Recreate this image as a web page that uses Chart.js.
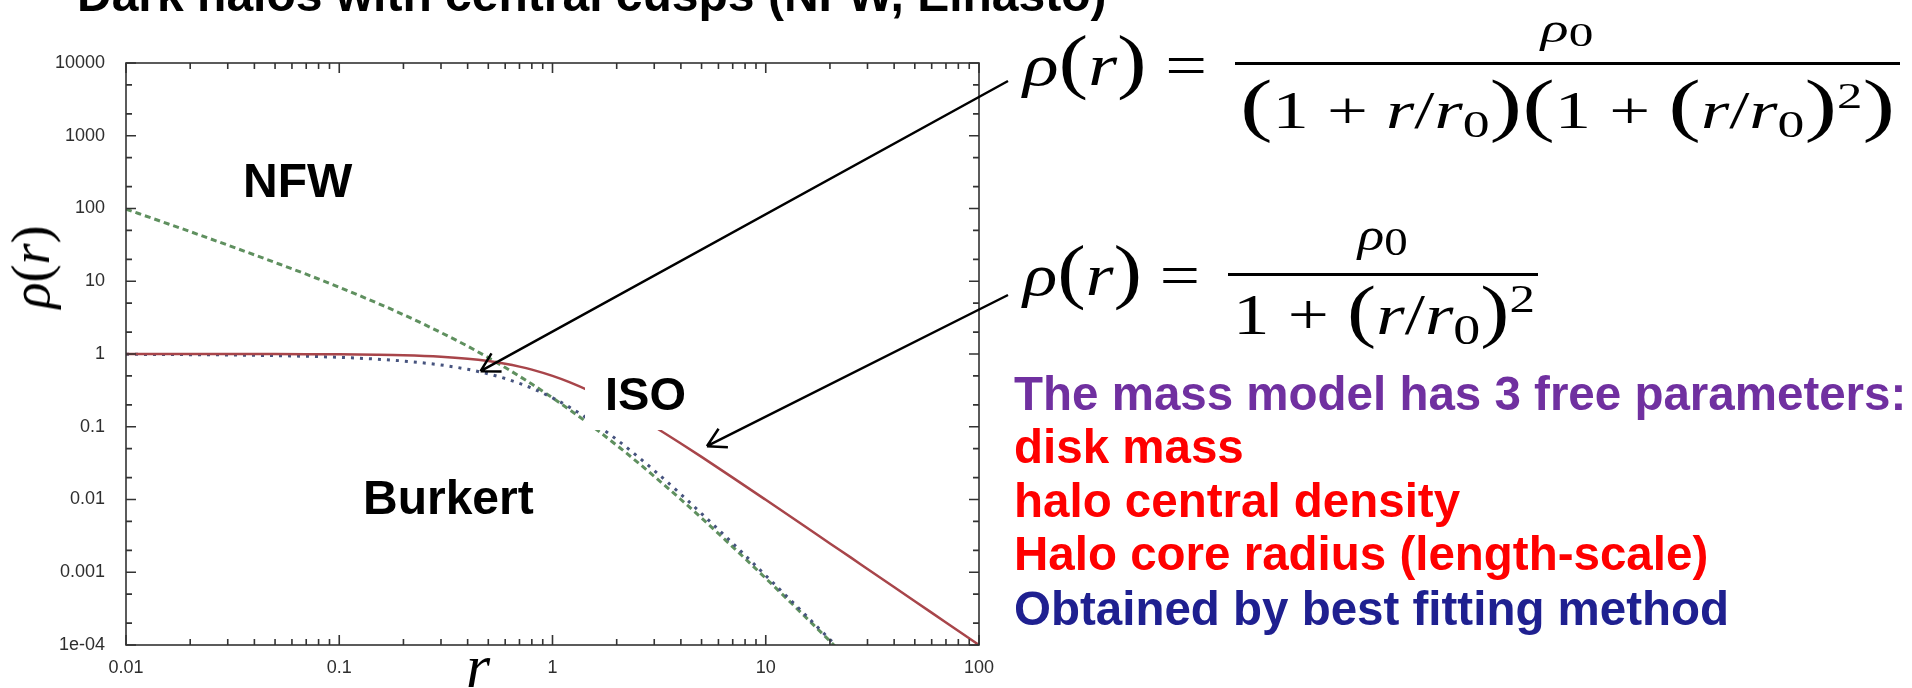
<!DOCTYPE html>
<html>
<head>
<meta charset="utf-8">
<script src="https://cdn.jsdelivr.net/npm/chart.js@4.4.1/dist/chart.umd.min.js"></script>
<style>
  html, body { margin: 0; padding: 0; background: #fff; }
  #page { position: relative; width: 1912px; height: 688px; overflow: hidden; }
  #page canvas { position: absolute; left: 0; top: 0; }
  .txt { position: absolute; white-space: nowrap; line-height: 1; }
  .sans { font-family: 'Liberation Sans', Arial, sans-serif; font-weight: bold; }
  .math { font-family: 'Liberation Serif', 'Times New Roman', serif; color: #000; }
  .math i { font-style: italic; }
  .sub { font-size: 0.74em; position: relative; top: 0.24em; }
  .sub0 { font-size: 0.85em; position: relative; top: 0.13em; }
  .sup { font-size: 0.7em; position: relative; top: -0.55em; }
  .big { font-size: 1.35em; line-height: 0; }
  .mid { font-size: 1.2em; line-height: 0; }
  .num { position: absolute; text-align: center; line-height: 1; }
  .num span.sq { display: inline-block; }
  .bar { position: absolute; background: #000; }
</style>
</head>
<body>
<div id="page">
  <canvas id="chart-density" width="1912" height="688"></canvas>

  <div class="txt sans" style="left:77px; top:-29px; font-size:48px;">Dark halos with central cusps (NFW, Einasto)</div>

  <div class="txt sans" style="left:243px; top:157px; font-size:48px;">NFW</div>
  <div style="position:absolute; left:585px; top:373px; width:115px; height:57px; background:#fff;"></div>
  <div class="txt sans" style="left:605px; top:370px; font-size:47px;">ISO</div>
  <div class="txt sans" style="left:363px; top:474px; font-size:48px;">Burkert</div>

  <div class="txt math" style="left:31px; top:267px; font-size:54px; transform:translate(-50%,-50%) rotate(-90deg);"><i>ρ</i>(<i>r</i>)</div>
  <div class="txt math" style="left:466px; top:635px; font-size:62px;"><i>r</i></div>

  <!-- Burkert profile -->
  <div class="txt math" data-w="184" style="left:1023px; top:35px; font-size:60px;"><i>ρ</i><span class="mid">(</span><i>r</i><span class="mid">)</span> =</div>
  <div class="num math" style="left:1235px; width:665px; top:9px; font-size:40px;"><span class="sq" style="transform:scaleX(1.45);"><i>ρ</i><span class="sub0">0</span></span></div>
  <div class="bar" style="left:1235px; top:62px; width:665px; height:3px;"></div>
  <div class="txt math" data-w="655" style="left:1240px; top:85px; font-size:52px;"><span class="big">(</span>1 + <i>r</i>/<i>r</i><span class="sub">0</span><span class="big">)(</span>1 + <span class="big">(</span><i>r</i>/<i>r</i><span class="sub">0</span><span class="big">)</span><span class="sup">2</span><span class="big">)</span></div>

  <!-- ISO profile -->
  <div class="txt math" data-w="177" style="left:1023px; top:245px; font-size:60px;"><i>ρ</i><span class="mid">(</span><i>r</i><span class="mid">)</span> =</div>
  <div class="num math" style="left:1228px; width:310px; top:212px; font-size:46px;"><span class="sq" style="transform:scaleX(1.2);"><i>ρ</i><span class="sub0">0</span></span></div>
  <div class="bar" style="left:1228px; top:273px; width:310px; height:3px;"></div>
  <div class="txt math" data-w="302" style="left:1233px; top:286px; font-size:58px;">1 + <span class="mid">(</span><i>r</i>/<i>r</i><span class="sub">0</span><span class="mid">)</span><span class="sup">2</span></div>

  <div class="txt sans" style="left:1014px; top:370px; font-size:47.5px; color:#7030a0;">The mass model has 3 free parameters:</div>
  <div class="txt sans" style="left:1014px; top:423px; font-size:47.5px; color:#ff0000;">disk mass</div>
  <div class="txt sans" style="left:1014px; top:477px; font-size:47.5px; color:#ff0000;">halo central density</div>
  <div class="txt sans" style="left:1014px; top:530px; font-size:47.5px; color:#ff0000;">Halo core radius (length-scale)</div>
  <div class="txt sans" style="left:1014px; top:585px; font-size:47.5px; color:#1f2090;">Obtained by best fitting method</div>
</div>

<script>
// radius r (in units of r0)
const radius = [0.01, 0.015, 0.02, 0.03, 0.05, 0.07, 0.1, 0.15, 0.2, 0.3, 0.4, 0.5, 0.6, 0.7, 0.8,
    1, 1.2, 1.5, 2, 2.5, 3, 4, 5, 7, 10, 15, 20, 25, 30, 50, 70, 100];

// density
const isoValues = [1.0, 1.0, 1.0, 0.999, 0.998, 0.995, 0.990, 0.978, 0.962, 0.917, 0.862, 0.800, 0.735, 0.671, 0.610,
    0.500, 0.410, 0.308, 0.200, 0.138, 0.100, 0.0588, 0.0385, 0.0200, 0.0099, 0.00443, 0.00249, 0.0016, 0.00111, 0.0004, 0.000204, 0.0001];
const nfwValues = [98.0, 64.7, 48.1, 31.4, 18.1, 12.5, 8.26, 5.04, 3.47, 1.97, 1.28, 0.889, 0.651, 0.494, 0.386,
    0.25, 0.172, 0.107, 0.0556, 0.0327, 0.0208, 0.0100, 0.00556, 0.00223, 0.000826, 0.00026, 0.000113, 0.000059];
const burkertValues = [0.990, 0.985, 0.980, 0.970, 0.950, 0.930, 0.900, 0.850, 0.801, 0.706, 0.616, 0.533, 0.460, 0.395, 0.339,
    0.250, 0.186, 0.123, 0.0667, 0.0394, 0.0250, 0.0118, 0.00641, 0.0025, 0.0009, 0.000277, 0.000119, 0.000061];

const xTickValues = [0.01, 0.1, 1, 10, 100];
const xTickLabels = ['0.01', '0.1', '1', '10', '100'];
const yTickValues = [1e-4, 0.001, 0.01, 0.1, 1, 10, 100, 1000, 10000];
const yTickLabels = ['1e-04', '0.001', '0.01', '0.1', '1', '10', '100', '1000', '10000'];

// arrows: tail on the formula, tip on the curve (data coords)
const arrows = [
    {tail: [1008, 81], tip: [0.46, 0.58]},
    {tail: [1008, 295], tip: [5.3, 0.054]},
];

function toPoints(values) {
    return values.map((v, i) => ({x: radius[i], y: v}));
}

// stretch DOM formulas to their measured widths
document.querySelectorAll('[data-w]').forEach(el => {
    let natural = el.getBoundingClientRect().width;
    el.style.transformOrigin = '0 0';
    el.style.transform = 'scaleX(' + (el.dataset.w / natural) + ')';
});

const frameTicks = {
    id: 'frameTicks',
    afterDatasetsDraw(chart) {
        const {ctx, chartArea: a, scales: {x, y}} = chart;
        ctx.save();
        ctx.strokeStyle = '#333';
        ctx.lineWidth = 1.6;
        ctx.strokeRect(a.left, a.top, a.right - a.left, a.bottom - a.top);
        ctx.beginPath();
        for (let e = -2; e <= 2; e++) {
            for (let m = 1; m <= 9; m++) {
                if (e === 2 && m > 1) break;
                let px = x.getPixelForValue(m * Math.pow(10, e));
                let len = m === 1 ? 10 : 6;
                ctx.moveTo(px, a.bottom); ctx.lineTo(px, a.bottom - len);
                ctx.moveTo(px, a.top); ctx.lineTo(px, a.top + len);
            }
        }
        for (let e = -4; e <= 4; e++) {
            [1, 2, 5].forEach(m => {
                if (e === 4 && m > 1) return;
                let py = y.getPixelForValue(m * Math.pow(10, e));
                let len = m === 1 ? 10 : 6;
                ctx.moveTo(a.left, py); ctx.lineTo(a.left + len, py);
                ctx.moveTo(a.right, py); ctx.lineTo(a.right - len, py);
            });
        }
        ctx.stroke();
        ctx.restore();
    },
};

const arrowPlugin = {
    id: 'arrowPlugin',
    afterDraw(chart) {
        const {ctx, scales: {x, y}} = chart;
        ctx.save();
        ctx.strokeStyle = '#000';
        ctx.lineWidth = 2.5;
        arrows.forEach(ar => {
            let tx = x.getPixelForValue(ar.tip[0]);
            let ty = y.getPixelForValue(ar.tip[1]);
            let ang = Math.atan2(ar.tail[1] - ty, ar.tail[0] - tx);
            ctx.beginPath();
            ctx.moveTo(ar.tail[0], ar.tail[1]);
            ctx.lineTo(tx, ty);
            [-0.52, 0.52].forEach(d => {
                ctx.moveTo(tx, ty);
                ctx.lineTo(tx + 21 * Math.cos(ang + d), ty + 21 * Math.sin(ang + d));
            });
            ctx.stroke();
        });
        ctx.restore();
    },
};

let tickFont = {family: "'Liberation Sans', Arial, sans-serif", size: 18};

new Chart(document.getElementById('chart-density'), {
    type: 'line',
    data: {
        datasets: [{
            label: 'ISO',
            data: toPoints(isoValues),
            borderColor: '#a8454a',
            borderWidth: 2.5,
        }, {
            label: 'Burkert',
            data: toPoints(burkertValues),
            borderColor: '#46537e',
            borderWidth: 3,
            borderDash: [3, 6],
        }, {
            label: 'NFW',
            data: toPoints(nfwValues),
            borderColor: '#5f905f',
            borderWidth: 3,
            borderDash: [6, 4],
        }],
    },
    options: {
        responsive: false,
        animation: false,
        devicePixelRatio: 1,
        elements: {
            point: {radius: 0},
            line: {cubicInterpolationMode: 'monotone', fill: false},
        },
        layout: {
            padding: {left: 0, top: 63, right: 933, bottom: 0},
        },
        scales: {
            x: {
                type: 'logarithmic',
                min: 0.01,
                max: 100,
                grid: {display: false},
                border: {display: false},
                ticks: {
                    color: '#2e2e2e',
                    font: tickFont,
                    padding: 4,
                    maxRotation: 0,
                    autoSkip: false,
                    callback: (value, index) => xTickLabels[index],
                },
                afterBuildTicks: scale => {
                    scale.ticks = xTickValues.map(v => ({value: v}));
                },
                afterFit: scale => {
                    scale.height = 43;
                },
            },
            y: {
                type: 'logarithmic',
                min: 1e-4,
                max: 10000,
                grid: {display: false},
                border: {display: false},
                ticks: {
                    color: '#2e2e2e',
                    font: tickFont,
                    padding: 13,
                    autoSkip: false,
                    callback: (value, index) => yTickLabels[index],
                },
                afterBuildTicks: scale => {
                    scale.ticks = yTickValues.map(v => ({value: v}));
                },
                afterFit: scale => {
                    scale.width = 126;
                },
            },
        },
        plugins: {
            legend: {display: false},
            tooltip: {enabled: false},
        },
    },
    plugins: [frameTicks, arrowPlugin],
});
</script>
</body>
</html>
